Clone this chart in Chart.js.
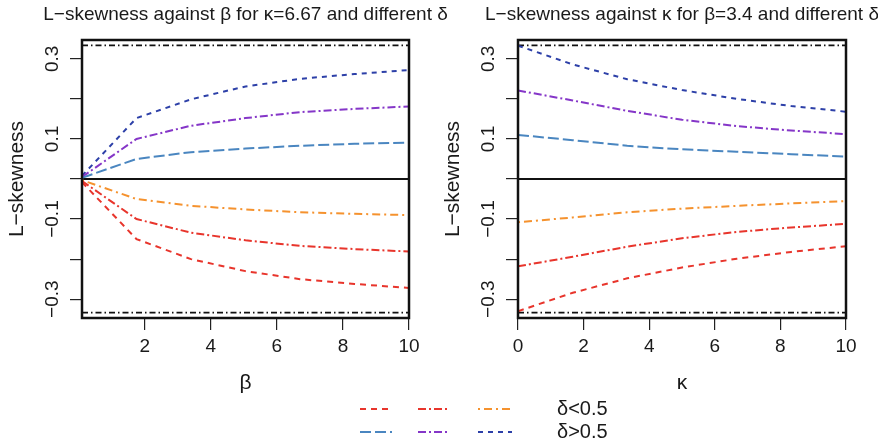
<!DOCTYPE html>
<html>
<head>
<meta charset="utf-8">
<script src="https://cdn.jsdelivr.net/npm/chart.js@4.4.0/dist/chart.umd.min.js"></script>
<style>
  html, body { margin: 0; padding: 0; background: #fff; }
  #wrap { position: relative; width: 878px; height: 445px; }
  canvas { position: absolute; left: 0; top: 0; }
</style>
</head>
<body>
<div id="wrap">
  <canvas id="leftChart" width="878" height="445"></canvas>
  <canvas id="rightChart" width="878" height="445"></canvas>
</div>
<script>
// x values
const betaValues = [0.1, 1.75, 3.4, 5.05, 6.7, 8.35, 10];
const kappaValues = [0, 1.67, 3.33, 5, 6.67, 8.33, 10];

// L-skewness against beta (kappa = 6.67)
const betaRedDashed   = [-0.008, -0.150, -0.200, -0.230, -0.250, -0.262, -0.272];
const betaRedDashDot  = [-0.005, -0.100, -0.134, -0.153, -0.167, -0.175, -0.181];
const betaOrange      = [-0.003, -0.050, -0.067, -0.076, -0.083, -0.087, -0.090];
const betaSteelBlue   = [0.003, 0.050, 0.067, 0.076, 0.083, 0.088, 0.091];
const betaPurple      = [0.005, 0.100, 0.133, 0.152, 0.167, 0.175, 0.181];
const betaDarkBlue    = [0.008, 0.152, 0.199, 0.231, 0.250, 0.262, 0.272];

// L-skewness against kappa (beta = 3.4)
const kappaRedDashed  = [-0.330, -0.284, -0.248, -0.221, -0.199, -0.182, -0.168];
const kappaRedDashDot = [-0.218, -0.194, -0.169, -0.148, -0.132, -0.121, -0.112];
const kappaOrange     = [-0.108, -0.096, -0.083, -0.074, -0.067, -0.061, -0.055];
const kappaSteelBlue  = [0.110, 0.097, 0.083, 0.074, 0.068, 0.062, 0.056];
const kappaPurple     = [0.221, 0.196, 0.170, 0.148, 0.132, 0.121, 0.112];
const kappaDarkBlue   = [0.333, 0.286, 0.249, 0.222, 0.200, 0.182, 0.168];

// axis ticks
const yTicks = [-0.3, -0.2, -0.1, 0, 0.1, 0.2, 0.3];
const yTickLabels = { '0.3': '0.3', '0.1': '0.1', '-0.1': '\u22120.1', '-0.3': '\u22120.3' };
const betaTicks = [2, 4, 6, 8, 10];
const kappaTicks = [0, 2, 4, 6, 8, 10];
const bound = 1 / 3;

const legendLabels = ['\u03b4<0.5', '\u03b4>0.5'];

const FONT = '"Liberation Sans", Arial, Helvetica, sans-serif';
const TEXT = '#1a1a1a';

// line styles, same order as the series
const styles = [
  { color: '#E8352C', dash: [6, 5] },
  { color: '#E8352C', dash: [8, 3, 2, 3] },
  { color: '#F5922E', dash: [2, 4, 8, 4] },
  { color: '#4A86C0', dash: [11, 4] },
  { color: '#8536C8', dash: [8, 3, 2, 3] },
  { color: '#2D40A8', dash: [5, 5] }
];

function pts(xs, ys) {
  return xs.map((x, i) => ({ x: x, y: ys[i] }));
}

function buildDatasets(xs, series, xmin, xmax) {
  const sets = series.map((ys, i) => ({
    data: pts(xs, ys),
    borderColor: styles[i].color,
    borderDash: styles[i].dash,
    borderWidth: 2,
    pointRadius: 0,
    tension: 0,
    fill: false
  }));
  // reference lines at +-1/3 and 0
  [bound, -bound].forEach(b => {
    sets.push({
      data: [{ x: xmin, y: b }, { x: xmax, y: b }],
      borderColor: '#111', borderDash: [6, 3, 1.5, 3], borderWidth: 1.8,
      pointRadius: 0, fill: false
    });
  });
  sets.push({
    data: [{ x: xmin, y: 0 }, { x: xmax, y: 0 }],
    borderColor: '#111', borderWidth: 2.2, pointRadius: 0, fill: false
  });
  return sets;
}

const panelPlugin = {
  id: 'panel',
  afterDraw(chart, args, opts) {
    const ctx = chart.ctx;
    const a = chart.chartArea;
    const ys = chart.scales.y;
    ctx.save();
    // box
    ctx.strokeStyle = '#111';
    ctx.lineWidth = 2.5;
    ctx.setLineDash([]);
    ctx.strokeRect(a.left, a.top, a.right - a.left, a.bottom - a.top);

    ctx.fillStyle = TEXT;
    ctx.textAlign = 'center';
    ctx.textBaseline = 'middle';
    const cx = (a.left + a.right) / 2;

    // title
    ctx.font = '19px ' + FONT;
    ctx.fillText(opts.title, cx, 15);

    // x axis label
    ctx.font = '21px ' + FONT;
    ctx.fillText(opts.xLabel, cx, 383);

    // y tick labels (rotated like R)
    ctx.font = '19px ' + FONT;
    ys.ticks.forEach(t => {
      const lab = yTickLabels[String(Math.round(t.value * 10) / 10)];
      if (!lab) return;
      const py = ys.getPixelForValue(t.value);
      ctx.save();
      ctx.translate(a.left - 29, py);
      ctx.rotate(-Math.PI / 2);
      ctx.fillText(lab, 0, 0);
      ctx.restore();
    });

    // y axis label
    ctx.font = '21px ' + FONT;
    ctx.save();
    ctx.translate(a.left - 65, (a.top + a.bottom) / 2);
    ctx.rotate(-Math.PI / 2);
    ctx.fillText('L\u2212skewness', 0, 0);
    ctx.restore();

    // legend
    if (opts.legend) {
      const rows = [409, 432];
      const cols = [[360, 392], [418, 450], [478, 512]];
      chart.data.datasets.slice(0, 6).forEach((ds, i) => {
        const r = Math.floor(i / 3), c = i % 3;
        ctx.beginPath();
        ctx.strokeStyle = ds.borderColor;
        ctx.lineWidth = 2;
        ctx.setLineDash(ds.borderDash);
        ctx.moveTo(cols[c][0], rows[r]);
        ctx.lineTo(cols[c][1], rows[r]);
        ctx.stroke();
      });
      ctx.setLineDash([]);
      ctx.font = '20px ' + FONT;
      ctx.textAlign = 'left';
      legendLabels.forEach((lab, r) => ctx.fillText(lab, 557, rows[r]));
    }
    ctx.restore();
  }
};

function makeChart(id, xs, series, xmin, xmax, xTicks, pad, yWidth, opts) {
  return new Chart(document.getElementById(id).getContext('2d'), {
    type: 'line',
    data: { datasets: buildDatasets(xs, series, xmin, xmax) },
    plugins: [panelPlugin],
    options: {
      responsive: false,
      animation: false,
      events: [],
      layout: { padding: pad },
      plugins: {
        legend: { display: false },
        tooltip: { enabled: false },
        title: { display: false },
        panel: opts
      },
      scales: {
        x: {
          type: 'linear',
          min: xmin,
          max: xmax,
          afterBuildTicks: s => { s.ticks = xTicks.map(v => ({ value: v })); },
          afterFit: s => { s.height = 127; },
          grid: { drawOnChartArea: false, drawTicks: true, tickLength: 12, color: '#222', lineWidth: 1.2 },
          border: { display: false },
          ticks: { font: { family: FONT, size: 19 }, color: TEXT, padding: 5, maxRotation: 0, autoSkip: false }
        },
        y: {
          type: 'linear',
          min: -0.347,
          max: 0.347,
          afterBuildTicks: s => { s.ticks = yTicks.map(v => ({ value: v })); },
          afterFit: s => { s.width = yWidth; },
          grid: { drawOnChartArea: false, drawTicks: true, tickLength: 12, color: '#222', lineWidth: 1.2 },
          border: { display: false },
          ticks: { display: false }
        }
      }
    }
  });
}

makeChart('leftChart', betaValues,
  [betaRedDashed, betaRedDashDot, betaOrange, betaSteelBlue, betaPurple, betaDarkBlue],
  0.1, 10, betaTicks,
  { left: 0, right: 469, top: 40, bottom: 0 }, 82,
  { title: 'L\u2212skewness against \u03b2 for \u03ba=6.67 and different \u03b4', xLabel: '\u03b2', legend: true });

makeChart('rightChart', kappaValues,
  [kappaRedDashed, kappaRedDashDot, kappaOrange, kappaSteelBlue, kappaPurple, kappaDarkBlue],
  0, 10, kappaTicks,
  { left: 440, right: 32, top: 40, bottom: 0 }, 78,
  { title: 'L\u2212skewness against \u03ba for \u03b2=3.4 and different \u03b4', xLabel: '\u03ba', legend: false });
</script>
</body>
</html>
